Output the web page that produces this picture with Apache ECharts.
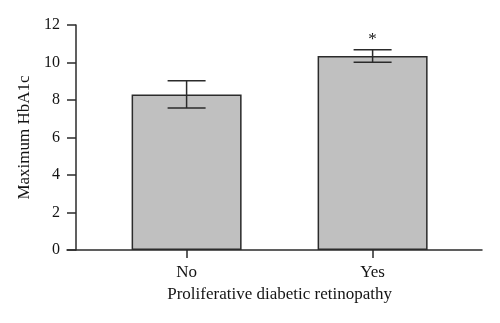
<!DOCTYPE html>
<html>
<head>
<meta charset="utf-8">
<script src="https://cdn.jsdelivr.net/npm/echarts@6/dist/echarts.min.js"></script>
<style>html,body{margin:0;padding:0;background:#fff}#c{width:500px;height:323px}</style>
</head>
<body>
<div id="c"></div>
<script>
var categories = ['No', 'Yes'];
var means = [8.3, 10.35];
var errors = [0.73, 0.33];
var marks = ['', '*'];
var yTicks = [0, 2, 4, 6, 8, 10, 12];
var xTitle = 'Proliferative diabetic retinopathy';
var yTitle = 'Maximum HbA1c';

var FONT = 'Liberation Serif';
var INK = '#2b2b2b';
var TXT = '#141414';

var chart = echarts.init(document.getElementById('c'), null, {renderer: 'canvas'});
var errData = categories.map(function (c, i) { return [i, means[i] - errors[i], means[i] + errors[i], marks[i]]; });

chart.setOption({
  animation: false,
  grid: [
    {left: 67, right: 18, top: 25, bottom: 73},
    {left: 93.6, width: 372, top: 25, bottom: 73}
  ],
  xAxis: [
    {gridIndex: 0, type: 'value', min: 0, max: 1,
     axisLine: {show: true, onZero: false, lineStyle: {color: INK, width: 1.5}},
     axisTick: {show: false}, axisLabel: {show: false}, splitLine: {show: false}},
    {gridIndex: 1, type: 'category', data: categories,
     axisLine: {show: false},
     axisTick: {show: true, alignWithLabel: true, length: 8, lineStyle: {color: INK, width: 1.5}},
     axisLabel: {color: TXT, fontFamily: FONT, fontSize: 17, margin: 14},
     name: xTitle, nameLocation: 'middle', nameGap: 35,
     nameTextStyle: {color: TXT, fontFamily: FONT, fontSize: 17}}
  ],
  yAxis: [
    {gridIndex: 0, type: 'value', min: 0, max: 12, show: false},
    {gridIndex: 1, type: 'value', min: 0, max: 12, interval: 2, offset: 17.6,
     axisLine: {show: true, lineStyle: {color: INK, width: 1.5}},
     axisTick: {show: true, length: 9, lineStyle: {color: INK, width: 1.5}},
     axisLabel: {color: TXT, fontFamily: FONT, fontSize: 16, margin: 16,
       formatter: function (v) { return yTicks.indexOf(v) >= 0 ? String(v) : ''; }},
     splitLine: {show: false},
     name: yTitle, nameLocation: 'middle', nameGap: 39, nameRotate: 90,
     nameTextStyle: {color: TXT, fontFamily: FONT, fontSize: 17}}
  ],
  series: [
    {type: 'bar', xAxisIndex: 1, yAxisIndex: 1, data: means, barWidth: 110,
     itemStyle: {color: '#c0c0c0', borderColor: INK, borderWidth: 1.5}},
    {type: 'custom', xAxisIndex: 1, yAxisIndex: 1, data: errData, z: 5,
     renderItem: function (params, api) {
       var x = api.value(0);
       var lo = api.coord([x, api.value(1)]);
       var hi = api.coord([x, api.value(2)]);
       var half = 19;
       var style = {stroke: INK, lineWidth: 1.5};
       var children = [
         {type: 'line', shape: {x1: lo[0], y1: lo[1], x2: hi[0], y2: hi[1]}, style: style},
         {type: 'line', shape: {x1: hi[0] - half, y1: hi[1], x2: hi[0] + half, y2: hi[1]}, style: style},
         {type: 'line', shape: {x1: lo[0] - half, y1: lo[1], x2: lo[0] + half, y2: lo[1]}, style: style}
       ];
       var m = api.value(3);
       if (m) {
         children.push({type: 'text', x: hi[0], y: hi[1] - 2,
           style: {text: m, fill: TXT, font: '17px "' + FONT + '"', align: 'center', verticalAlign: 'bottom'}});
       }
       return {type: 'group', children: children};
     }}
  ]
});
</script>
</body>
</html>
